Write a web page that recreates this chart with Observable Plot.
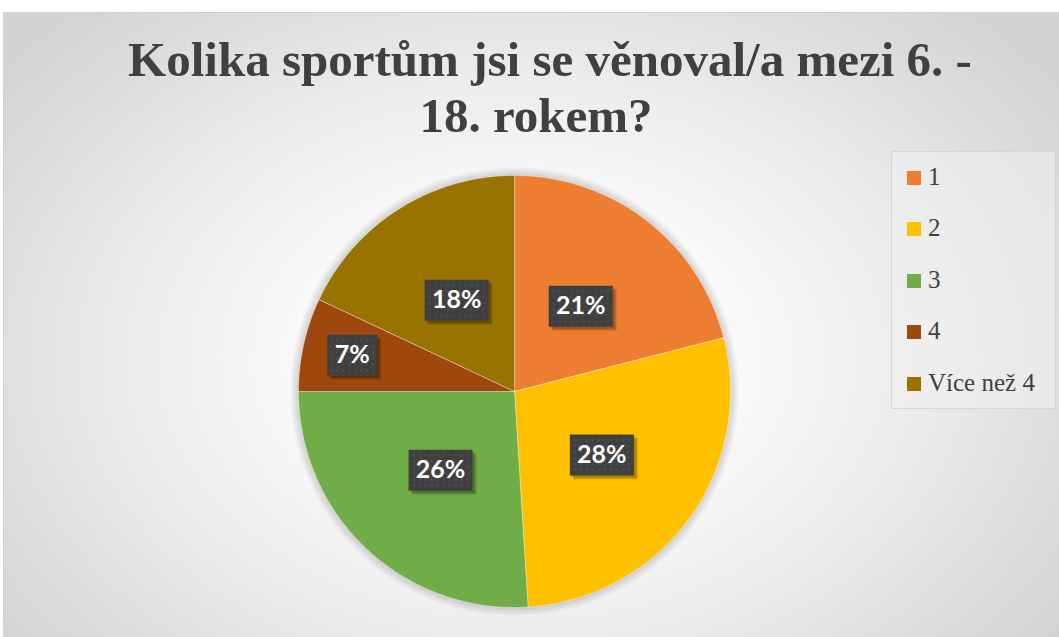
<!DOCTYPE html>
<html><head><meta charset="utf-8">
<script src="https://cdn.jsdelivr.net/npm/d3@7"></script>
<script src="https://cdn.jsdelivr.net/npm/@observablehq/plot@0.6"></script>
<style>
html,body{margin:0;padding:0;background:#fff;}
#wrap{position:relative;width:1059px;height:637px;overflow:hidden;}
#panel{position:absolute;left:3px;top:12px;width:1060px;height:630px;border:1px solid #cfcfcf;box-sizing:border-box;
  background:radial-gradient(ellipse 62% 75% at 49% 55%, #ffffff 0%, #fbfbfb 30%, #ebebeb 62%, #dcdcdc 85%, #d4d4d4 100%);}
#title{position:absolute;left:0;top:32px;width:1059px;text-align:center;font-family:"Liberation Serif","Times New Roman",serif;font-weight:bold;font-size:49px;line-height:56px;color:#404040;}
#title .l1{padding-left:41px;}
#title .l2{padding-left:13px;}
#title div{white-space:nowrap;}
#legend{position:absolute;left:891px;top:151px;width:165px;height:258px;background:rgba(240,240,240,0.55);border:1px solid rgba(205,205,205,0.7);box-sizing:border-box;}
.li{position:absolute;left:15px;height:26px;font-family:"Liberation Serif","Times New Roman",serif;font-size:25px;color:#404040;line-height:26px;white-space:nowrap;}
.li span.sw{display:inline-block;width:14px;height:14px;margin-right:7px;vertical-align:baseline;}
#chart{position:absolute;left:0;top:0;}
</style></head>
<body>
<svg width="0" height="0" style="position:absolute">
  <defs><pattern id="dots" width="6" height="6" patternUnits="userSpaceOnUse"><circle cx="3" cy="3" r="1" fill="rgba(255,255,255,0.09)"/></pattern></defs>
</svg>
<div id="wrap">
  <div id="panel"></div>
  <div id="chart"></div>
  <div id="title"><div class="l1">Kolika sportům jsi se věnoval/a mezi 6. -</div><div class="l2">18. rokem?</div></div>
  <div id="legend"></div>
</div>
<script>
const categories = ["1", "2", "3", "4", "Více než 4"];
const values = [21, 28, 26, 7, 18];
const colors = ["#ED7D31", "#FFC000", "#70AD47", "#9E480E", "#997300"];

const R = 216, CX = 514, CY = 391, W = 1059, H = 637;
const total = d3.sum(values);
const pie = d3.pie().sort(null).value(d => d.value)(categories.map((c, i) => ({cat: c, value: values[i]})));

// slice outlines (geometry of each arc)
const pts = [];
for (const s of pie) {
  pts.push({cat: s.data.cat, x: 0, y: 0});
  const n = Math.max(2, Math.ceil((s.endAngle - s.startAngle) / (Math.PI / 360)));
  for (let k = 0; k <= n; k++) {
    const a = s.startAngle + (s.endAngle - s.startAngle) * k / n;
    pts.push({cat: s.data.cat, x: Math.sin(a), y: Math.cos(a)});
  }
  pts.push({cat: s.data.cat, x: 0, y: 0});
}

const labels = pie.map(s => {
  const a = (s.startAngle + s.endAngle) / 2;
  const share = s.data.value / total;
  const f = share < 0.1 ? 0.77 : 0.5;
  return {cat: s.data.cat, label: Math.round(share * 100) + "%", x: Math.sin(a) * f, y: Math.cos(a) * f};
});
const box = w => ({draw(ctx) { ctx.rect(-w / 2, -20.5, w, 41); }});
const wide = labels.filter(d => d.label.length >= 3);
const narrow = labels.filter(d => d.label.length < 3);
const halo = [8, 6, 4, 2].map(r => Plot.dot([{x: 0, y: 0}], {x: "x", y: "y", r: R + r, fill: "#000", fillOpacity: 0.035, stroke: "none"}));
const shadow = (d, w) => [2, 3, 4].map(o => Plot.dot(d, {x: "x", y: "y", symbol: box(w), r: 10, fill: "#000", fillOpacity: 0.12, stroke: "none", dx: o, dy: o}));

const plot = Plot.plot({
  width: W, height: H, margin: 0,
  style: {background: "transparent", overflow: "visible"},
  x: {domain: [-CX / R, (W - CX) / R], axis: null},
  y: {domain: [-(H - CY) / R, CY / R], axis: null},
  color: {domain: categories, range: colors},
  marks: [
    ...halo,
    Plot.line(pts, {x: "x", y: "y", z: "cat", fill: "cat", stroke: "#ffffff", strokeWidth: 0.7, strokeOpacity: 0.5}),
    ...shadow(wide, 64),
    ...shadow(narrow, 50),
    Plot.dot(wide, {x: "x", y: "y", symbol: box(64), r: 10, fill: "#404040", stroke: "none"}),
    Plot.dot(narrow, {x: "x", y: "y", symbol: box(50), r: 10, fill: "#404040", stroke: "none"}),
    Plot.dot(wide, {x: "x", y: "y", symbol: box(64), r: 10, fill: "url(#dots)", stroke: "none"}),
    Plot.dot(narrow, {x: "x", y: "y", symbol: box(50), r: 10, fill: "url(#dots)", stroke: "none"}),
    Plot.text(labels, {x: "x", y: "y", text: "label", fill: "#ffffff", fontSize: 25, fontWeight: "bold", fontFamily: "Lato, 'Open Sans', sans-serif"})
  ]
});
document.getElementById("chart").appendChild(plot);

const legend = document.getElementById("legend");
categories.forEach((c, i) => {
  const d = document.createElement("div");
  d.className = "li";
  d.style.top = (11.6 + i * 51.5) + "px";
  d.innerHTML = `<span class="sw" style="background:${colors[i]}"></span>${c}`;
  legend.appendChild(d);
});
</script>
</body></html>
